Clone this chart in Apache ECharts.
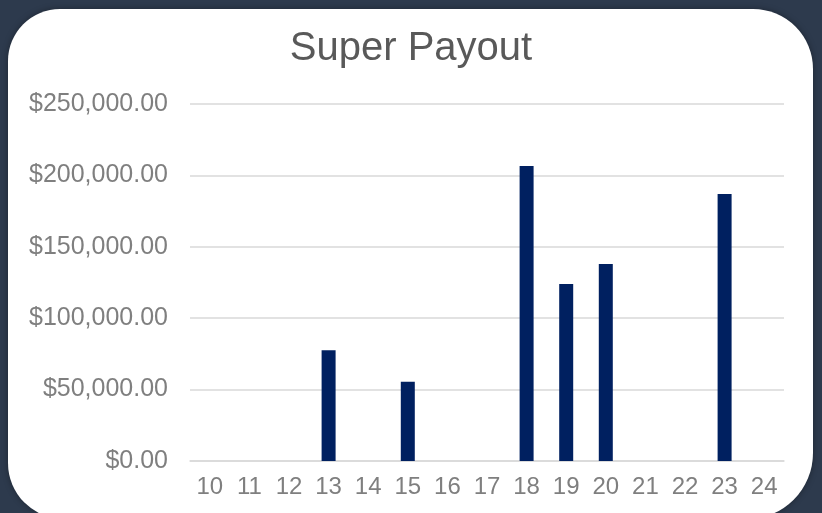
<!DOCTYPE html>
<html>
<head>
<meta charset="utf-8">
<style>
  html, body { margin: 0; padding: 0; background: #2d3a4d; }
  #chart { width: 822px; height: 513px; }
</style>
<script src="https://cdn.jsdelivr.net/npm/echarts@6/dist/echarts.min.js"></script>
</head>
<body>
<div id="chart"></div>
<script>
// data
const days = ['10', '11', '12', '13', '14', '15', '16', '17', '18', '19', '20', '21', '22', '23', '24'];
const payout = [null, null, null, 77500, null, 55500, null, null, 206500, 124000, 138000, null, null, 187000, null];

const chart = echarts.init(document.getElementById('chart'));

const fmtMoney = v => '$' + v.toLocaleString('en-US', { minimumFractionDigits: 2, maximumFractionDigits: 2 });

const option = {
  backgroundColor: '#2d3a4d',
  animation: false,
  graphic: [{
    type: 'rect',
    z: -10,
    shape: { x: 8, y: 9, width: 805, height: 510, r: [52, 60, 66, 56] },
    style: { fill: '#ffffff', shadowBlur: 6, shadowColor: 'rgba(0,0,0,0.35)' }
  }],
  title: {
    text: 'Super Payout',
    left: 'center',
    top: 24,
    textStyle: { color: '#595959', fontSize: 40, fontWeight: 'normal', fontFamily: 'Liberation Sans, Arial' }
  },
  grid: { left: 190, right: 38, top: 104, bottom: 52 },
  xAxis: {
    type: 'category',
    data: days,
    axisLine: { lineStyle: { color: '#d9d9d9', width: 1.5 } },
    axisTick: { show: false },
    axisLabel: { color: '#7f7f7f', fontSize: 24, margin: 14, fontFamily: 'Liberation Sans, Arial' }
  },
  yAxis: {
    type: 'value',
    min: 0,
    max: 250000,
    interval: 50000,
    axisLine: { show: false },
    axisTick: { show: false },
    splitLine: { lineStyle: { color: '#d9d9d9', width: 1.5 } },
    axisLabel: { color: '#7f7f7f', fontSize: 25, margin: 22, formatter: fmtMoney, fontFamily: 'Liberation Sans, Arial' }
  },
  series: [{
    type: 'bar',
    data: payout,
    barWidth: 14,
    itemStyle: { color: '#002060' }
  }]
};

chart.setOption(option);
</script>
</body>
</html>
